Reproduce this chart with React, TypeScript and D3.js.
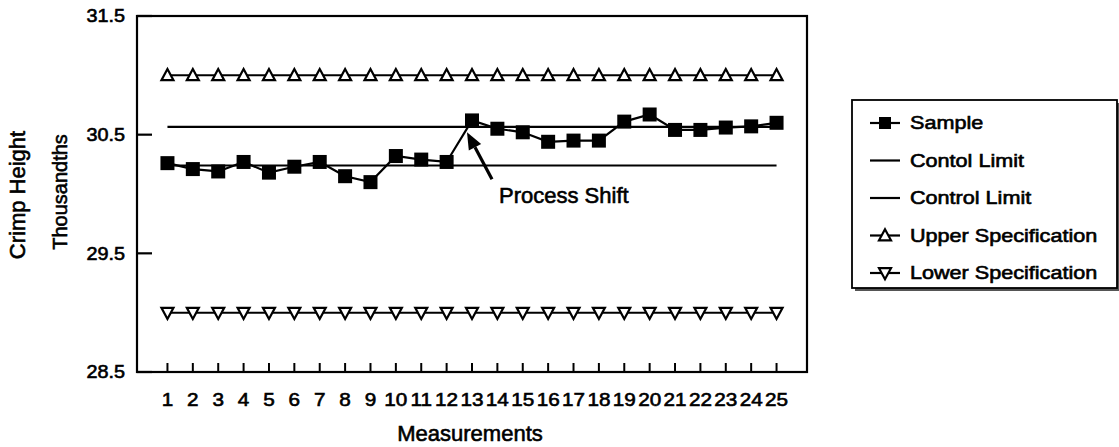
import React from "react";
import * as d3 from "d3";

const measurements = [1, 2, 3, 4, 5, 6, 7, 8, 9, 10, 11, 12, 13, 14, 15, 16, 17, 18, 19, 20, 21, 22, 23, 24, 25];
const sample = [30.26, 30.21, 30.19, 30.27, 30.18, 30.23, 30.27, 30.15, 30.1, 30.32, 30.29, 30.27, 30.62, 30.55, 30.52, 30.44, 30.45, 30.45, 30.61, 30.67, 30.54, 30.54, 30.56, 30.57, 30.6];
const contolLimit = [30.565, 30.565, 30.565, 30.565, 30.565, 30.565, 30.565, 30.565, 30.565, 30.565, 30.565, 30.565, 30.565, 30.565, 30.565, 30.565, 30.565, 30.565, 30.565, 30.565, 30.565, 30.565, 30.565, 30.565, 30.565];
const controlLimit = [30.24, 30.24, 30.24, 30.24, 30.24, 30.24, 30.24, 30.24, 30.24, 30.24, 30.24, 30.24, 30.24, 30.24, 30.24, 30.24, 30.24, 30.24, 30.24, 30.24, 30.24, 30.24, 30.24, 30.24, 30.24];
const upperSpec = [31, 31, 31, 31, 31, 31, 31, 31, 31, 31, 31, 31, 31, 31, 31, 31, 31, 31, 31, 31, 31, 31, 31, 31, 31];
const lowerSpec = [29, 29, 29, 29, 29, 29, 29, 29, 29, 29, 29, 29, 29, 29, 29, 29, 29, 29, 29, 29, 29, 29, 29, 29, 29];
const yTicks = [28.5, 29.5, 30.5, 31.5];
const legendLabels = ["Sample", "Contol Limit", "Control Limit", "Upper Specification", "Lower Specification"];

const FONT = "'Liberation Sans', Arial, Helvetica, sans-serif";
const TS = 0.6; // slight stroke to mimic the heavier scanned type

function SText(props: any) {
  const { x, y, sx = 1.2, anchor = "start", size = 18, baseline = "auto", children } = props;
  return (
    <text
      transform={`translate(${x},${y}) scale(${sx},1)`}
      textAnchor={anchor}
      fontSize={size}
      dominantBaseline={baseline}
      fontFamily={FONT}
      fill="#000"
      stroke="#000"
      strokeWidth={TS}
    >
      {children}
    </text>
  );
}

function Tri({ cx, cy, up, s = 6 }: any) {
  const pts = up
    ? [[cx, cy - s * 1.05], [cx - s, cy + s * 0.8], [cx + s, cy + s * 0.8]]
    : [[cx, cy + s * 1.05], [cx - s, cy - s * 0.8], [cx + s, cy - s * 0.8]];
  return <polygon points={pts.map((p) => p.join(",")).join(" ")} fill="#fff" stroke="#000" strokeWidth={2.2} />;
}

export default function App() {
  const left = 137, right = 807, top = 16, bottom = 372;
  const x = d3.scalePoint<number>().domain(measurements).range([left, right]).padding(1.2);
  const y = d3.scaleLinear().domain([28.5, 31.5]).range([bottom, top]);
  const line = d3.line<number>().x((_, i) => x(measurements[i])!).y((d) => y(d));

  const sq = 14;
  const tipX = x(13)! - 5;
  const tipY = y(30.52);
  const tailX = x(13)! + 20;
  const tailY = y(30.125);
  const ang = Math.atan2(tipY - tailY, tipX - tailX);
  const ah = 17, aw = 7;
  const bx = tipX - ah * Math.cos(ang), by = tipY - ah * Math.sin(ang);
  const arrowHead = [
    [tipX, tipY],
    [bx + aw * Math.sin(ang), by - aw * Math.cos(ang)],
    [bx - aw * Math.sin(ang), by + aw * Math.cos(ang)],
  ];

  const legX = 852, legY = 100, legW = 265, legH = 188;
  const legRowY = (i: number) => 123 + i * 37.5;

  return (
    <svg width={1119} height={447} style={{ position: "absolute", left: 0, top: 0, background: "#fff" }}>
      <rect x={0} y={0} width={1119} height={447} fill="#fff" />
      <rect x={left} y={top} width={right - left} height={bottom - top} fill="none" stroke="#000" strokeWidth={2.2} />
      {yTicks.map((t) => (
        <g key={t}>
          <line x1={left} x2={left + 15} y1={y(t)} y2={y(t)} stroke="#000" strokeWidth={2.2} />
          <SText x={125} y={y(t)} anchor="end" baseline="central" sx={1.1}>{t.toFixed(1)}</SText>
        </g>
      ))}
      {measurements.map((m) => (
        <g key={m}>
          <line x1={x(m)} x2={x(m)} y1={bottom} y2={bottom - 9} stroke="#000" strokeWidth={2} />
          <SText x={x(m)} y={400} anchor="middle" baseline="central" sx={1.15}>{String(m)}</SText>
        </g>
      ))}
      <text transform={`translate(25,195) rotate(-90)`} textAnchor="middle" fontSize={22} fontFamily={FONT} stroke="#000" strokeWidth={TS}>Crimp Height</text>
      <text transform={`translate(67,192) rotate(-90)`} textAnchor="middle" fontSize={20} fontFamily={FONT} stroke="#000" strokeWidth={TS}>Thousandths</text>
      <text x={470} y={441} textAnchor="middle" fontSize={22} fontFamily={FONT} stroke="#000" strokeWidth={TS}>Measurements</text>

      <path d={line(upperSpec) || ""} fill="none" stroke="#000" strokeWidth={2} />
      <path d={line(lowerSpec) || ""} fill="none" stroke="#000" strokeWidth={2} />
      {upperSpec.map((v, i) => <Tri key={"u" + i} cx={x(measurements[i])} cy={y(v)} up={true} />)}
      {lowerSpec.map((v, i) => <Tri key={"l" + i} cx={x(measurements[i])} cy={y(v)} up={false} />)}
      <path d={line(contolLimit) || ""} fill="none" stroke="#000" strokeWidth={2.2} />
      <path d={line(controlLimit) || ""} fill="none" stroke="#000" strokeWidth={2.2} />
      <path d={line(sample) || ""} fill="none" stroke="#000" strokeWidth={2.2} />
      {sample.map((v, i) => (
        <rect key={"s" + i} x={x(measurements[i])! - sq / 2} y={y(v) - sq / 2} width={sq} height={sq} fill="#000" />
      ))}

      <line x1={tailX} y1={tailY} x2={bx} y2={by} stroke="#000" strokeWidth={3.2} />
      <polygon points={arrowHead.map((p) => p.join(",")).join(" ")} fill="#000" />
      <text x={499} y={203} fontSize={22} fontFamily={FONT} stroke="#000" strokeWidth={TS}>Process Shift</text>

      <rect x={legX + 3} y={legY + 3} width={legW} height={legH} fill="#555" />
      <rect x={legX} y={legY} width={legW} height={legH} fill="#fff" stroke="#000" strokeWidth={1.8} />
      {legendLabels.map((lab, i) => {
        const cy = legRowY(i);
        return (
          <g key={lab}>
            <line x1={870} x2={900} y1={cy} y2={cy} stroke="#000" strokeWidth={2.2} />
            {i === 0 && <rect x={885 - 6} y={cy - 6} width={12} height={12} fill="#000" />}
            {i === 3 && <Tri cx={885} cy={cy} up={true} s={6} />}
            {i === 4 && <Tri cx={885} cy={cy} up={false} s={6} />}
            <SText x={910} y={cy} baseline="central" sx={1.2}>{lab}</SText>
          </g>
        );
      })}
    </svg>
  );
}
